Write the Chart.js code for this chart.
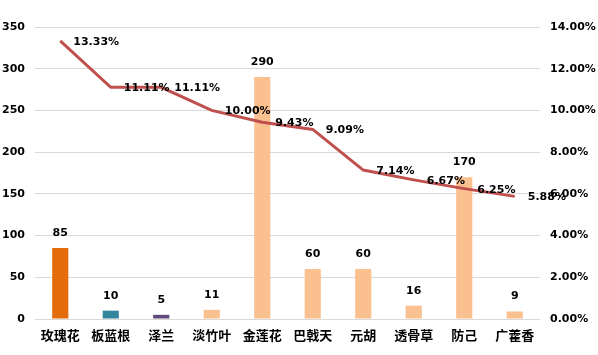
<!DOCTYPE html>
<html>
<head>
<meta charset="utf-8">
<script src="https://cdn.jsdelivr.net/npm/chart.js@4/dist/chart.umd.min.js"></script>
<style>
  html, body { margin: 0; padding: 0; background: #fff; }
  #wrap { width: 598px; height: 355px; }
</style>
</head>
<body>
<div id="wrap"><canvas id="comboChart"></canvas></div>
<script>
// ---------------- DATA -----------------------------
const herbs = ["玫瑰花", "板蓝根", "泽兰", "淡竹叶", "金莲花", "巴戟天", "元胡", "透骨草", "防己", "广藿香"];
const counts = [85, 10, 5, 11, 290, 60, 60, 16, 170, 9];
const rates = [13.33, 11.11, 11.11, 10.0, 9.43, 9.09, 7.14, 6.67, 6.25, 5.88];
const leftTicks = [0, 50, 100, 150, 200, 250, 300, 350];
const rightTicks = [0, 2, 4, 6, 8, 10, 12, 14];

const barColors = ["#E46C0A", "#31859C", "#604A7B", "#FAC090", "#FAC090", "#FAC090", "#FAC090", "#FAC090", "#FAC090", "#FAC090"];

const numFont = { family: "DejaVu Sans", size: 11, weight: "bold" };

// ---------------- LABEL PLUGIN -----------------------------
const valueLabels = {
  id: "valueLabels",
  afterDatasetsDraw(chart) {
    const ctx = chart.ctx;
    ctx.save();
    ctx.fillStyle = "#000";
    ctx.font = "bold 11px 'DejaVu Sans'";
    ctx.textBaseline = "middle";

    // bar values
    chart.getDatasetMeta(0).data.forEach((bar, i) => {
      ctx.textAlign = "center";
      ctx.fillText(counts[i], bar.x, bar.y - 15);
    });

    // line values
    chart.getDatasetMeta(1).data.forEach((pt, i) => {
      ctx.textAlign = "left";
      ctx.fillText(rates[i].toFixed(2) + "%", pt.x + 13, pt.y + 1);
    });
    ctx.restore();
  },
};

// ---------------- CHART -----------------------------
const comboData = {
  labels: herbs,
  datasets: [
    {
      type: "bar",
      data: counts,
      backgroundColor: barColors,
      yAxisID: "y",
      barPercentage: 0.32,
      categoryPercentage: 1,
      order: 1,
    },
    {
      type: "line",
      data: rates,
      borderColor: "#C0504D",
      borderWidth: 3,
      pointRadius: 0,
      tension: 0,
      yAxisID: "y1",
      order: 0,
    },
  ],
};

const comboConfig = {
  data: comboData,
  options: {
    responsive: true,
    maintainAspectRatio: false,
    animation: false,
    layout: { padding: { top: 27, left: 0, right: 0, bottom: 0 } },
    plugins: { legend: { display: false }, tooltip: { enabled: false } },
    scales: {
      x: {
        grid: { display: false, drawTicks: false },
        border: { display: false },
        ticks: {
          color: "#000",
          padding: 8,
          font: { family: "Noto Sans CJK SC", size: 13, weight: "bold" },
        },
        afterFit(scale) { scale.height = 36; },
      },
      y: {
        position: "left",
        min: 0,
        max: 350,
        afterBuildTicks(scale) { scale.ticks = leftTicks.map((v) => ({ value: v })); },
        grid: { color: "#D9D9D9", lineWidth: 1, drawTicks: false },
        border: { display: false },
        ticks: { color: "#000", padding: 10, font: numFont },
        afterFit(scale) { scale.width = 35; },
      },
      y1: {
        position: "right",
        min: 0,
        max: 14,
        afterBuildTicks(scale) { scale.ticks = rightTicks.map((v) => ({ value: v })); },
        grid: { display: false, drawTicks: false },
        border: { display: false },
        ticks: {
          color: "#000",
          padding: 10,
          font: numFont,
          callback: (v) => v.toFixed(2) + "%",
        },
        afterFit(scale) { scale.width = 58; },
      },
    },
  },
  plugins: [valueLabels],
};

// RENDER THE CHART
const comboChart = new Chart(document.getElementById("comboChart"), comboConfig);
</script>
</body>
</html>
